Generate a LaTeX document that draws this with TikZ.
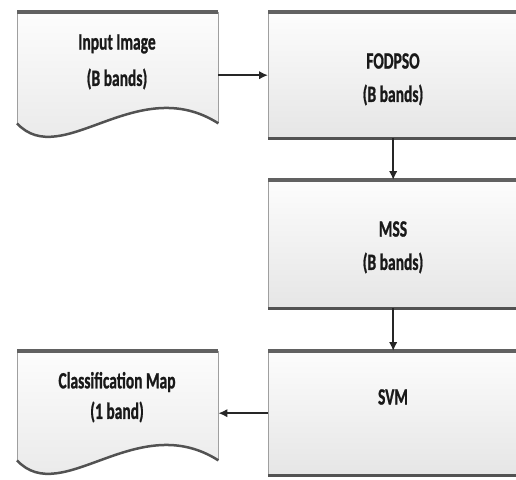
\documentclass[tikz,border=0pt]{standalone}
\usepackage{fontspec}
\setmainfont{Carlito}[BoldFont={Carlito Bold},BoldFeatures={FakeBold=1.2}]
\usetikzlibrary{arrows.meta,calc}
\newcommand\tx[1]{\scalebox{1}[1.5]{#1}}
\begin{document}
\begin{tikzpicture}[x=1pt,y=-1pt,
 boxn/.style={rectangle, minimum width=250pt, inner sep=0pt, anchor=north west},
 docn/.style={rectangle, minimum width=201pt, inner sep=0pt, anchor=north west},
 lbl/.style={font=\fontsize{15.5}{19}\selectfont\bfseries, text=black!90, inner sep=0pt},
 edge/.style={draw=gray!75, line width=1pt},
 topedge/.style={draw=black!62, line width=3.2pt},
 botedge/.style={draw=black!68, line width=3pt},
 conn/.style={draw=black!85, line width=1.7pt, -{Latex[length=9pt,width=8.5pt]}},
 fillshade/.style={top color=gray!2, bottom color=gray!20}
]
\useasboundingbox (0,0) rectangle (516,479);
\clip (0,0) rectangle (516,479);

% nodes (geometry holders)
\node[docn, minimum height=111pt] (inp) at (17,12) {};
\node[docn, minimum height=109pt] (cls) at (17,351) {};
\node[boxn, minimum height=126pt] (fod) at (268,12) {};
\node[boxn, minimum height=128pt] (mss) at (268,180) {};
\node[boxn, minimum height=124pt] (svm) at (268,351) {};

% process boxes
\foreach \b in {fod,mss,svm}{
  \shade[fillshade] (\b.north west) rectangle (\b.south east);
  \draw[edge] (\b.north west) -- (\b.south west);
  \draw[botedge] (\b.south west) -- (\b.south east);
  \draw[topedge] (\b.north west) -- (\b.north east);
}

% document shapes
\shade[fillshade] (inp.north west) -- (inp.south west)
  .. controls ($(inp.south west)+(45,48)$) and ($(inp.south west)+(120,-52)$) .. (inp.south east)
  -- (inp.north east) -- cycle;
\draw[edge] (inp.south west) -- (inp.north west) (inp.north east) -- (inp.south east);
\draw[botedge, line width=2.5pt] (inp.south west)
  .. controls ($(inp.south west)+(45,48)$) and ($(inp.south west)+(120,-52)$) .. (inp.south east);
\draw[topedge] (inp.north west) -- (inp.north east);

\shade[fillshade] (cls.north west) -- (cls.south west)
  .. controls ($(cls.south west)+(45,48)$) and ($(cls.south west)+(120,-52)$) .. (cls.south east)
  -- (cls.north east) -- cycle;
\draw[edge] (cls.south west) -- (cls.north west) (cls.north east) -- (cls.south east);
\draw[botedge, line width=2.5pt] (cls.south west)
  .. controls ($(cls.south west)+(45,48)$) and ($(cls.south west)+(120,-52)$) .. (cls.south east);
\draw[topedge] (cls.north west) -- (cls.north east);

% texts
\node[lbl] (inpa) at (117,44) {\tx{Input Image}};
\node[lbl] (inpb) at (117,79) {\tx{(B bands)}};
\node[lbl] (foda) at (393,61) {\tx{FODPSO}};
\node[lbl] (fodb) at (393,95) {\tx{(B bands)}};
\node[lbl] (mssa) at (393,229) {\tx{MSS}};
\node[lbl] (mssb) at (393,263) {\tx{(B bands)}};
\node[lbl] (svma) at (393,397) {\tx{SVM}};
\node[lbl] (clsa) at (117,382) {\tx{Classification Map}};
\node[lbl] (clsb) at (117,412) {\tx{(1 band)}};

% connectors
\draw[conn] (fod.west -| inp.east) -- (fod.west);
\draw[conn] (fod.south) -- (mss.north);
\draw[conn] (mss.south) -- (svm.north);
\draw[conn] (svm.west) -- (svm.west -| cls.east);
\end{tikzpicture}
\end{document}
